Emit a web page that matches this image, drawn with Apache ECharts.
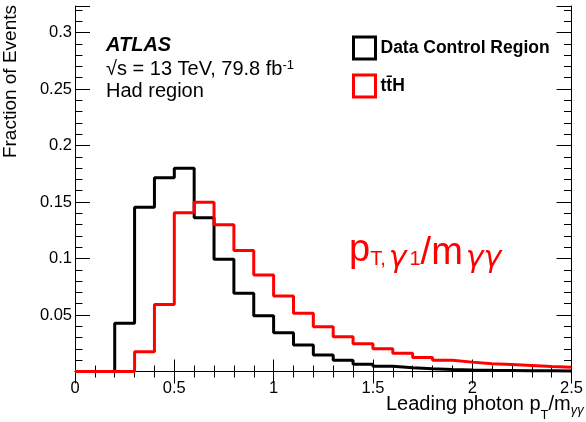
<!DOCTYPE html>
<html>
<head>
<meta charset="utf-8">
<script src="https://cdn.jsdelivr.net/npm/echarts@6/dist/echarts.min.js"></script>
<style>html,body{margin:0;padding:0;background:#fff}#c{width:586px;height:422px}</style>
</head>
<body>
<div id="c"></div>
<script>
// Bin edges (width 0.1) of the histograms
const binEdges = [0.0, 0.1, 0.2, 0.3, 0.4, 0.5, 0.6, 0.7, 0.8, 0.9, 1.0, 1.1, 1.2, 1.3,
                  1.4, 1.5, 1.6, 1.7, 1.8, 1.9, 2.0, 2.1, 2.2, 2.3, 2.4, 2.5];
// Fraction of events per bin
const dataControl = [0, 0, 0.0427, 0.1453, 0.1715, 0.1798, 0.1361, 0.0993, 0.0692, 0.0494,
                     0.0344, 0.0235, 0.0145, 0.0099, 0.0065, 0.0046, 0.0034, 0.0024, 0.0018,
                     0.0014, 0.0011, 0.0009, 0.0007, 0.0006, 0.0005];
const ttH = [0, 0, 0, 0.0175, 0.0594, 0.1405, 0.1497, 0.1299, 0.1072, 0.0854,
             0.0668, 0.0515, 0.0397, 0.0308, 0.0246, 0.0202, 0.0161, 0.0125, 0.0100,
             0.0083, 0.0069, 0.0061, 0.0053, 0.0045, 0.0038];
const seriesNames = ['Data Control Region', 't\u0074\u0304H'];
const yTickLabels = ['0.05', '0.1', '0.15', '0.2', '0.25', '0.3'];
const xTickLabels = ['0', '0.5', '1', '1.5', '2', '2.5'];

const FONT = '"Liberation Sans", Arial, Helvetica, sans-serif';

function histPoints(vals) {
  const pts = vals.map((v, i) => [binEdges[i], v]);
  pts.push([binEdges[vals.length], vals[vals.length - 1]]);
  return pts;
}
function fmt(v) { return String(+v.toFixed(4)); }

const chart = echarts.init(document.getElementById('c'), null, {renderer: 'canvas'});

const axisLine = {show: true, lineStyle: {color: '#000', width: 1}};
const xCommon = {
  type: 'value', min: 0, max: 2.5, interval: 0.5,
  axisLine: axisLine,
  axisTick: {show: true, inside: true, length: 12, lineStyle: {color: '#000', width: 1}},
  minorTick: {show: true, splitNumber: 5, length: 6, lineStyle: {color: '#000', width: 1}},
  splitLine: {show: false}, minorSplitLine: {show: false}
};
const yMax = 0.3235;
const yMajor = {
  type: 'value', min: 0, max: yMax, interval: 0.05,
  axisLine: axisLine,
  axisTick: {show: true, inside: true, length: 15, lineStyle: {color: '#000', width: 1}},
  splitLine: {show: false}
};
const yMinor = {
  type: 'value', min: 0, max: yMax, interval: 0.01,
  axisLine: {show: false},
  axisTick: {show: true, inside: true, length: 7.5, lineStyle: {color: '#000', width: 1}},
  axisLabel: {show: false},
  splitLine: {show: false}
};

function tok(font, size, padTop, extra) {
  return Object.assign({fontFamily: font, fontSize: size, verticalAlign: 'top',
    padding: [padTop, 0, 0, 0]}, extra || {});
}

const option = {
  animation: false,
  backgroundColor: '#fff',
  grid: {left: 75, right: 12, top: 6, bottom: 50.5, containLabel: false},
  xAxis: [
    Object.assign({}, xCommon, {
      position: 'bottom',
      axisLabel: {show: true, margin: 8, fontSize: 16.5, fontFamily: FONT, color: '#000',
        formatter: v => { const s = fmt(v); return xTickLabels.includes(s) ? s : ''; }}
    }),
    Object.assign({}, xCommon, {position: 'top', axisLabel: {show: false}})
  ],
  yAxis: [
    Object.assign({}, yMajor, {
      position: 'left',
      axisLabel: {show: true, margin: 3, fontSize: 16.5, fontFamily: FONT, color: '#000',
        formatter: v => { const s = fmt(v); return yTickLabels.includes(s) ? s : ''; }}
    }),
    Object.assign({}, yMinor, {position: 'left'}),
    Object.assign({}, yMajor, {position: 'right', axisLabel: {show: false}}),
    Object.assign({}, yMinor, {position: 'right'})
  ],
  legend: {
    orient: 'vertical', left: 352, top: 35.5, padding: 0,
    itemWidth: 22, itemHeight: 22, itemGap: 13,
    icon: 'rect', selectedMode: false,
    textStyle: {fontFamily: FONT, fontSize: 17.5, fontWeight: 'bold', color: '#000'},
    data: [
      {name: seriesNames[0], itemStyle: {color: 'rgba(0,0,0,0)', borderColor: '#000', borderWidth: 3}},
      {name: seriesNames[1], itemStyle: {color: 'rgba(0,0,0,0)', borderColor: '#ff0000', borderWidth: 3}}
    ]
  },
  series: [
    {
      name: seriesNames[0], type: 'line', step: 'end', xAxisIndex: 0, yAxisIndex: 0,
      data: histPoints(dataControl), showSymbol: false, symbol: 'none',
      lineStyle: {color: '#000', width: 3}, itemStyle: {color: '#000'}
    },
    {
      name: seriesNames[1], type: 'line', step: 'end', xAxisIndex: 0, yAxisIndex: 0,
      data: histPoints(ttH), showSymbol: false, symbol: 'none',
      lineStyle: {color: '#ff0000', width: 3}, itemStyle: {color: '#ff0000'}
    }
  ],
  graphic: [
    {type: 'text', x: 106, y: 35, style: {text: 'ATLAS', fontFamily: FONT, fontSize: 20,
      fontWeight: 'bold', fontStyle: 'italic', fill: '#000', verticalAlign: 'top', lineHeight: 20}},
    {type: 'text', x: 106, y: 59.3, style: {
      text: '{m|\u221As = 13 TeV, 79.8 fb}{sup|-1}', fill: '#000', verticalAlign: 'top',
      rich: {
        m: tok(FONT, 20, 0, {fill: '#000'}),
        sup: tok(FONT, 13, 0, {fill: '#000'})
      }}},
    {type: 'text', x: 106, y: 81.8, style: {text: 'Had region', fontFamily: FONT, fontSize: 20,
      fill: '#000', verticalAlign: 'top', lineHeight: 20}},
    // big red annotation
    {type: 'text', x: 349, y: 231, style: {
      text: '{p|p}{s|T,}{g|\u03B3}{s|1}{m|/m}{g|\u03B3\u03B3}', fill: '#ff0000', verticalAlign: 'top',
      rich: {
        p: tok(FONT, 38, 0.8, {fill: '#ff0000'}),
        m: tok(FONT, 38, 3.8, {fill: '#ff0000'}),
        s: tok(FONT, 20, 18, {fill: '#ff0000'}),
        g: {fontFamily: '"DejaVu Sans", ' + FONT, fontSize: 30, fontStyle: 'italic', verticalAlign: 'top',
            fill: '#ff0000', padding: [13.5, 3, 0, 3]}
      }}},
    // x axis title
    {type: 'text', x: 386, y: 390, style: {
      text: '{m|Leading photon p}{t|T}{m|/m}{g|\u03B3\u03B3}', fill: '#000', verticalAlign: 'top',
      rich: {
        m: tok(FONT, 20, 4.8, {fill: '#000'}),
        t: tok(FONT, 13, 19, {fill: '#000'}),
        g: tok(FONT, 13, 14, {fill: '#000', fontStyle: 'italic'})
      }}},
    // y axis title
    {type: 'text', x: 10.4, y: 5, rotation: Math.PI / 2, style: {
      text: 'Fraction of Events', fontFamily: FONT, fontSize: 19, fill: '#000',
      align: 'right', verticalAlign: 'middle'}}
  ]
};
chart.setOption(option);
</script>
</body>
</html>
